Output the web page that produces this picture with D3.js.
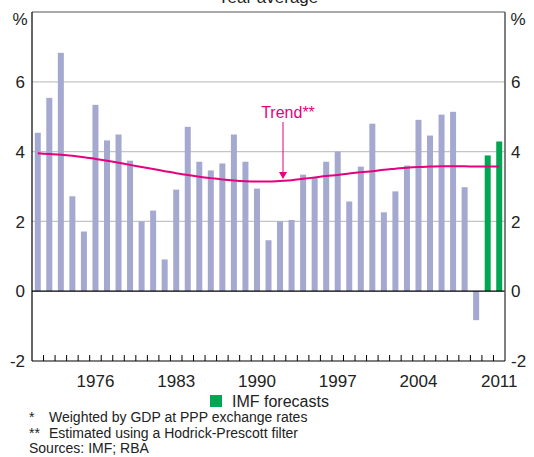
<!DOCTYPE html>
<html><head><meta charset="utf-8">
<script src="https://cdn.jsdelivr.net/npm/d3@7"></script>
<style>body{margin:0;background:#fff}svg{display:block;font-family:"Liberation Sans",Arial,sans-serif}</style>
</head><body><svg id="c" width="534" height="457"></svg>
<script>
const years = d3.range(1971, 2012);
const growth = [4.54,5.54,6.83,2.72,1.71,5.34,4.32,4.49,3.74,2.0,2.31,0.91,2.91,4.71,3.71,3.46,3.66,4.49,3.71,2.94,1.46,2.0,2.04,3.34,3.26,3.71,4.0,2.57,3.57,4.8,2.26,2.86,3.6,4.91,4.46,5.06,5.14,2.98,-0.83,3.89,4.29];
const forecastYears = [2010, 2011];
const trend = [3.95,3.93,3.91,3.88,3.84,3.79,3.74,3.68,3.62,3.56,3.50,3.44,3.38,3.33,3.28,3.24,3.20,3.17,3.15,3.14,3.14,3.16,3.18,3.22,3.26,3.30,3.33,3.37,3.41,3.44,3.48,3.51,3.54,3.56,3.57,3.58,3.58,3.58,3.57,3.57,3.57];
const yTicks = [-2,0,2,4,6];
const xLabels = [1976,1983,1990,1997,2004,2011];
const footnotes = [["*","Weighted by GDP at PPP exchange rates"],["**","Estimated using a Hodrick-Prescott filter"]];

const svg = d3.select("#c");
const L=32, R=505, T=12, B=361;
const x = d3.scaleBand().domain(years).range([L,R]).paddingInner(0.48).paddingOuter(0.24);
const y = d3.scaleLinear().domain([-2,8]).range([B,T]);
const bar="#a5a8cf", green="#00a651", pink="#e5007d", txt="#222";

// title (cut off at top, as in reference)
svg.append("text").attr("x",268).attr("y",3).attr("text-anchor","middle").attr("font-size",17).attr("fill",txt).text("Year average");

// gridlines
svg.append("g").selectAll("line").data([2,4,6]).join("line")
 .attr("x1",L).attr("x2",R).attr("y1",d=>y(d)).attr("y2",d=>y(d)).attr("stroke","#c4c4c4").attr("stroke-width",1.2);

// bars
svg.append("g").selectAll("rect").data(years).join("rect")
 .attr("x",d=>x(d)).attr("width",x.bandwidth())
 .attr("y",(d,i)=>y(Math.max(0,growth[i]))).attr("height",(d,i)=>Math.abs(y(growth[i])-y(0)))
 .attr("fill",d=>forecastYears.includes(d)?green:bar);

// zero line
svg.append("line").attr("x1",L).attr("x2",R).attr("y1",y(0)).attr("y2",y(0)).attr("stroke","#000").attr("stroke-width",1.2);

// trend
const line = d3.line().x((d,i)=>x(years[i])+x.bandwidth()/2).y(d=>y(d)).curve(d3.curveMonotoneX);
svg.append("path").datum(trend).attr("d",line).attr("fill","none").attr("stroke",pink).attr("stroke-width",2);

// annotation
svg.append("text").attr("x",288).attr("y",118).attr("text-anchor","middle").attr("font-size",16).attr("fill",pink).text("Trend**");
svg.append("line").attr("x1",283).attr("x2",283).attr("y1",122).attr("y2",172).attr("stroke",pink).attr("stroke-width",1);
svg.append("path").attr("d","M279,172 L287,172 L283,179 Z").attr("fill",pink);

// frame
svg.append("line").attr("x1",L).attr("x2",R).attr("y1",T).attr("y2",T).attr("stroke","#555").attr("stroke-width",1);
svg.append("line").attr("x1",L).attr("x2",L).attr("y1",T).attr("y2",B).attr("stroke","#000").attr("stroke-width",1.2);
svg.append("line").attr("x1",R).attr("x2",R).attr("y1",T).attr("y2",B).attr("stroke","#555").attr("stroke-width",1.5);
svg.append("line").attr("x1",L).attr("x2",R).attr("y1",B).attr("y2",B).attr("stroke","#000").attr("stroke-width",1.2);

// bottom ticks at band edges
const step = x.step();
svg.append("g").selectAll("line").data(years.slice(1)).join("line")
 .attr("x1",d=>x(d)-step*0.24).attr("x2",d=>x(d)-step*0.24).attr("y1",B).attr("y2",B-6).attr("stroke","#000").attr("stroke-width",1);

// y labels
const yl = svg.append("g").attr("font-size",17).attr("fill",txt);
yl.selectAll("text.l").data(yTicks).join("text").attr("class","l").attr("x",25).attr("y",d=>y(d)).attr("dy","0.36em").attr("text-anchor","end").text(d=>d);
yl.selectAll("text.r").data(yTicks).join("text").attr("class","r").attr("x",511).attr("y",d=>y(d)).attr("dy","0.36em").attr("text-anchor","start").text(d=>d);
svg.append("text").attr("x",20).attr("y",25).attr("text-anchor","middle").attr("font-size",17).attr("fill",txt).text("%");
svg.append("text").attr("x",518).attr("y",25).attr("text-anchor","middle").attr("font-size",17).attr("fill",txt).text("%");

// x labels
svg.append("g").selectAll("text").data(xLabels).join("text")
 .attr("x",d=>x(d)+x.bandwidth()/2).attr("y",387).attr("text-anchor","middle").attr("font-size",17).attr("fill",txt).text(d=>d);

// legend
svg.append("rect").attr("x",210).attr("y",395).attr("width",12).attr("height",12).attr("fill",green);
svg.append("text").attr("x",232).attr("y",407).attr("font-size",16).attr("fill",txt).text("IMF forecasts");

// footnotes
const fn = svg.append("g").attr("font-size",14).attr("fill",txt);
footnotes.forEach((f,i)=>{
  fn.append("text").attr("x",29).attr("y",422+i*15.5).text(f[0]);
  fn.append("text").attr("x",49).attr("y",422+i*15.5).text(f[1]);
});
fn.append("text").attr("x",29).attr("y",453).text("Sources: IMF; RBA");
</script></body></html>
